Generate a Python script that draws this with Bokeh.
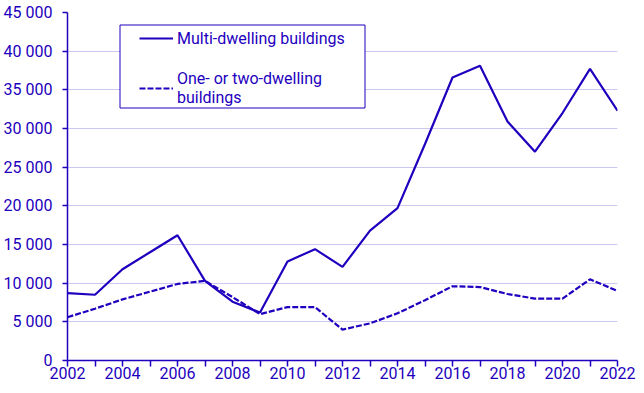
from bokeh.plotting import figure
from bokeh.models import Range1d, FixedTicker, Legend, LegendItem, BoxAnnotation
from bokeh.embed import file_html
from bokeh.resources import INLINE

years = list(range(2002, 2023))
multi_dwelling = [8700, 8500, 11800, 14000, 16200, 10300, 7600, 6200, 12800, 14400,
                  12100, 16800, 19700, 28000, 36600, 38100, 30900, 27000, 32000, 37700, 32300]
one_two_dwelling = [5600, 6700, 7900, 8900, 9900, 10300, 8200, 6000, 6900, 6900,
                    4000, 4800, 6100, 7800, 9600, 9500, 8600, 8000, 8000, 10500, 9000]
y_ticks = list(range(0, 45001, 5000))
x_label_years = list(range(2002, 2023, 2))
series_names = ["Multi-dwelling buildings", "One- or two-dwelling\nbuildings"]

BLUE = "#1e00be"
GRID = "#c8c8f0"
FONT = "Roboto"

p = figure(width=636, height=385, output_backend="svg", toolbar_location=None,
           x_range=Range1d(years[0], years[-1]), y_range=Range1d(0, y_ticks[-1]),
           min_border_left=66, min_border_right=19, min_border_top=12, min_border_bottom=25)
p.outline_line_color = None
p.background_fill_color = "white"
p.border_fill_color = "white"

r1 = p.line(years, multi_dwelling, line_color=BLUE, line_width=2.2)
r2 = p.line(years, one_two_dwelling, line_color=BLUE, line_width=2.2, line_dash="6 2")

p.xgrid.visible = False
p.ygrid.grid_line_color = GRID
p.ygrid.grid_line_width = 1

p.xaxis.ticker = FixedTicker(ticks=years)
p.xaxis.major_label_overrides = {y: (str(y) if y in x_label_years else "") for y in years}
p.yaxis.ticker = FixedTicker(ticks=y_ticks)
p.yaxis.major_label_overrides = {v: f"{v:,}".replace(",", " ") for v in y_ticks}

for ax in (p.xaxis[0], p.yaxis[0]):
    ax.axis_line_color = BLUE
    ax.axis_line_width = 1.5
    ax.major_tick_line_color = BLUE
    ax.major_tick_line_width = 1.5
    ax.major_tick_in = 0
    ax.minor_tick_line_color = None
    ax.major_label_text_color = BLUE
    ax.major_label_text_font = FONT
    ax.major_label_text_font_size = "16px"
p.xaxis.major_tick_out = 6
p.xaxis.major_label_standoff = 0
p.yaxis.major_tick_out = 5
p.yaxis.major_label_standoff = 10

legend = Legend(items=[LegendItem(label=series_names[0], renderers=[r1]),
                       LegendItem(label=series_names[1], renderers=[r2])],
                location=(72, 253), padding=0, spacing=21,
                glyph_width=34, label_standoff=4,
                border_line_alpha=0, background_fill_alpha=0,
                label_text_font=FONT, label_text_font_size="16px",
                label_text_line_height=1.3,
                label_text_color=BLUE)
p.add_layout(legend, "center")

box = BoxAnnotation(left=52.5, right=297.5, bottom=252.5, top=335.5,
                    left_units="screen", right_units="screen",
                    bottom_units="screen", top_units="screen",
                    fill_color="white", fill_alpha=1.0,
                    line_color=BLUE, line_alpha=1.0, line_width=1, level="overlay")
p.add_layout(box)

open("out.html", "w").write(file_html(p, INLINE))
